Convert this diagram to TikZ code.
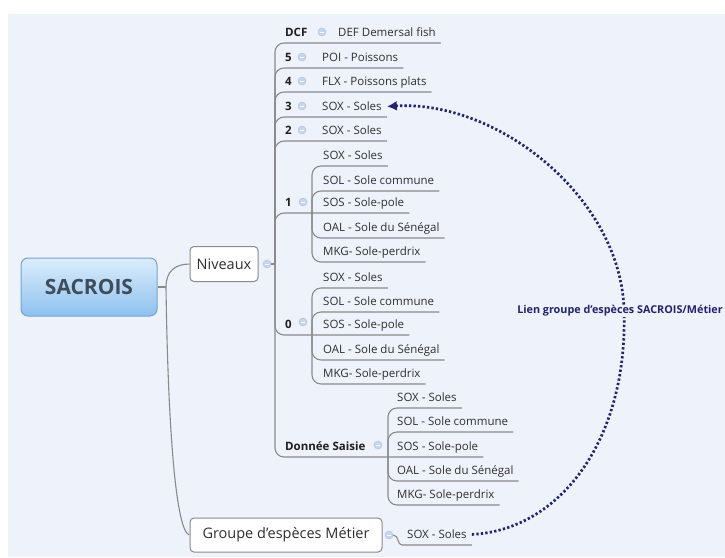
\documentclass[tikz,border=0pt]{standalone}
\usepackage{fontspec}
\setmainfont{Open Sans}
\usetikzlibrary{arrows.meta}
\definecolor{bgblue}{HTML}{EEF2FA}
\definecolor{branchgray}{HTML}{8A8A8A}
\definecolor{foldfill}{HTML}{C6D6EE}
\definecolor{foldline}{HTML}{A8BEE2}
\definecolor{linknavy}{HTML}{23236E}
\definecolor{rootedge}{HTML}{76A3CF}
\definecolor{roottop}{HTML}{DCEDFC}
\definecolor{rootbot}{HTML}{8DC1EF}
\definecolor{roottext}{HTML}{3F4C5A}
\definecolor{textgray}{HTML}{2F2F2F}
\tikzset{
  branch/.style={draw=branchgray, line width=1.1pt, rounded corners=9pt},
  leaf/.style={anchor=south west, inner xsep=5pt, inner ysep=6pt, text depth=0pt,
    font=\fontsize{11.5}{13}\selectfont, text=textgray},
  lvl/.style={leaf, font=\fontsize{11.5}{13}\selectfont\bfseries, text=black!88},
  fold/.style={circle, draw=foldline, fill=foldfill, minimum size=8pt, inner sep=0pt,
    path picture={\draw[white, line width=0.7pt] ([xshift=-2pt]path picture bounding box.center)
      -- ([xshift=2pt]path picture bounding box.center);}},
  topic/.style={draw=branchgray, fill=white, rounded corners=4pt, line width=1pt,
    font=\fontsize{14.5}{16}\selectfont, text=textgray},
  root/.style={draw=rootedge, line width=1pt, rounded corners=7pt, top color=roottop,
    bottom color=rootbot, minimum width=136pt, minimum height=58pt,
    font=\fontsize{21}{24}\selectfont\bfseries, text=roottext},
  link/.style={draw=linknavy, line width=2.7pt, dash pattern=on 2.3pt off 2.2pt,
    -{Latex[length=10pt,width=10pt]}},
  lien/.style={fill=bgblue, inner sep=1pt, text=linknavy,
    font=\fontsize{10.8}{12}\selectfont\bfseries}
}
\begin{document}
\begin{tikzpicture}[x=1pt, y=-1pt]
  \useasboundingbox (0,0) rectangle (725,557);
  \fill[white] (0,0) rectangle (725,557);
  \fill[bgblue] (8,14) rectangle (725,557);

  \node[root] (root) at (89,287) {SACROIS};
  \node[topic, minimum width=68pt, minimum height=35pt] (niv) at (224,264) {Niveaux};
  \node[topic, minimum width=192pt, minimum height=34pt] (grp) at (286,535) {Groupe d'espèces Métier};
  \coordinate (rj) at (166,287);
  \draw[branch] (root.east) -- (rj);
  \draw[branch] (rj) .. controls +(0,-16) and +(-14,0) .. (niv.west);
  \draw[branch] (rj) .. controls (168,430) and (176,532) .. (grp.west);

  \node[fold] (fniv) at (267,264) {};
  \coordinate (tk) at (275,264);
  \draw[branch] (fniv.east) -- (tk);

  \node[lvl] (dcf) at (280,43) {DCF};
  \node[fold] (fdcf) at (322,32) {};
  \node[leaf] (ddef) at (333,43) {DEF Demersal fish};
  \draw[branch] (tk) |- (ddef.south east);

  \node[lvl] (n5) at (280,68) {5};
  \node[fold] (f5) at (302,57) {};
  \node[leaf] (poi) at (317,68) {POI - Poissons};
  \draw[branch] (tk) |- (poi.south east);

  \node[lvl] (n4) at (280,92) {4};
  \node[fold] (f4) at (302,81) {};
  \node[leaf] (flx) at (317,92) {FLX - Poissons plats};
  \draw[branch] (tk) |- (flx.south east);

  \node[lvl] (n3) at (280,117) {3};
  \node[fold] (f3) at (302,106) {};
  \node[leaf] (sox3) at (317,117) {SOX - Soles};
  \draw[branch] (tk) |- (sox3.south east);

  \node[lvl] (n2) at (280,141) {2};
  \node[fold] (f2) at (302,130) {};
  \node[leaf] (sox2) at (317,141) {SOX - Soles};
  \draw[branch] (tk) |- (sox2.south east);

  \node[lvl] (n1) at (280,213) {1};
  \node[fold] (f1) at (303,202) {};
  \coordinate (k1) at (312,213);
  \node[leaf] (sox1) at (318,166) {SOX - Soles};
  \node[leaf] (sol1) at (318,191) {SOL - Sole commune};
  \node[leaf] (sos1) at (318,213) {SOS - Sole-pole};
  \node[leaf] (oal1) at (318,238) {OAL - Sole du Sénégal};
  \node[leaf] (mkg1) at (318,262) {MKG- Sole-perdrix};
  \draw[branch] (tk) |- (sos1.south east);
  \draw[branch] (k1) |- (sox1.south east);
  \draw[branch] (k1) |- (sol1.south east);
  \draw[branch] (k1) |- (oal1.south east);
  \draw[branch] (k1) |- (mkg1.south east);

  \node[lvl] (n0) at (280,335) {0};
  \node[fold] (f0) at (303,322) {};
  \coordinate (k0) at (312,335);
  \node[leaf] (sox0) at (318,288) {SOX - Soles};
  \node[leaf] (sol0) at (318,312) {SOL - Sole commune};
  \node[leaf] (sos0) at (318,335) {SOS - Sole-pole};
  \node[leaf] (oal0) at (318,360) {OAL - Sole du Sénégal};
  \node[leaf] (mkg0) at (318,384) {MKG- Sole-perdrix};
  \draw[branch] (tk) |- (sos0.south east);
  \draw[branch] (k0) |- (sox0.south east);
  \draw[branch] (k0) |- (sol0.south east);
  \draw[branch] (k0) |- (oal0.south east);
  \draw[branch] (k0) |- (mkg0.south east);

  \node[lvl] (ds) at (280,457) {Donnée Saisie};
  \node[fold] (fds) at (378,445) {};
  \coordinate (kd) at (388,457);
  \node[leaf] (soxd) at (392,408) {SOX - Soles};
  \node[leaf] (sold) at (392,432) {SOL - Sole commune};
  \node[leaf] (sosd) at (392,457) {SOS - Sole-pole};
  \node[leaf] (oald) at (392,481) {OAL - Sole du Sénégal};
  \node[leaf] (mkgd) at (392,505) {MKG- Sole-perdrix};
  \draw[branch] (tk) |- (sosd.south east);
  \draw[branch] (kd) |- (soxd.south east);
  \draw[branch] (kd) |- (sold.south east);
  \draw[branch] (kd) |- (oald.south east);
  \draw[branch] (kd) |- (mkgd.south east);

  \node[fold] (fgrp) at (389,535) {};
  \node[leaf] (gsox) at (402,545) {SOX - Soles};
  \draw[branch, sharp corners] (fgrp.east) .. controls +(6,0) and +(-5,0) .. (gsox.south west) -- (gsox.south east);

  \coordinate (lienpt) at (624,311);
  \draw[link] (gsox.east) .. controls (560,530) and (628,440) .. (lienpt)
    .. controls (622,200) and (500,100) .. (sox3.east);
  \node[lien] (lien) at (620,311) {Lien groupe d'espèces SACROIS/Métier};
\end{tikzpicture}
\end{document}
